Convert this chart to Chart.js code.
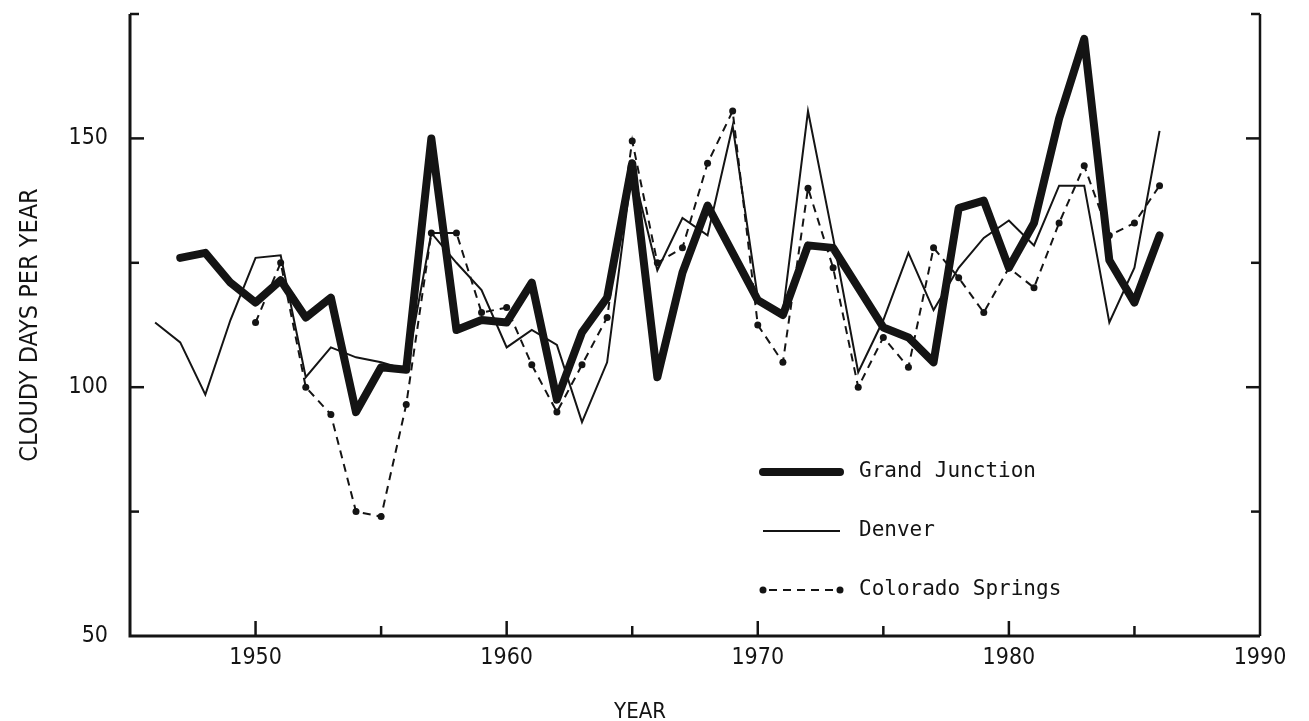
<!DOCTYPE html>
<html>
<head>
<meta charset="utf-8">
<script src="https://cdn.jsdelivr.net/npm/chart.js@4.4.1/dist/chart.umd.min.js"></script>
<style>
  html, body { margin: 0; background: #fff; }
  #wrap { width: 1309px; height: 721px; }
</style>
</head>
<body>
<div id="wrap"><canvas id="cloudy"></canvas></div>
<script>
/* cloudy days per year, three Colorado stations */
const years = [1946, 1947, 1948, 1949, 1950, 1951, 1952, 1953, 1954, 1955,
               1956, 1957, 1958, 1959, 1960, 1961, 1962, 1963, 1964, 1965,
               1966, 1967, 1968, 1969, 1970, 1971, 1972, 1973, 1974, 1975,
               1976, 1977, 1978, 1979, 1980, 1981, 1982, 1983, 1984, 1985, 1986];
const grandJunction = [null, 126, 127, 121, 117, 121.5, 114, 118, 95, 104,
                       103.5, 150, 111.5, 113.5, 113, 121, 97.5, 111, 118, 145,
                       102, 123, 136.5, 127, 117.5, 114.5, 128.5, 128, 120, 112,
                       110, 105, 136, 137.5, 124, 133, 154, 170, 125.5, 117, 130.5];
const denver = [113, 109, 98.5, 113.5, 126, 126.5, 102, 108, 106, 105,
                103.5, 131, 125, 119.5, 108, 111.5, 108.5, 93, 105, 144,
                123.5, 134, 130.5, 152.5, 118, 115, 155.5, 130, 103, 113.5,
                127, 115.5, 124, 130, 133.5, 128.5, 140.5, 140.5, 113, 124, 151.5];
const coloradoSprings = [null, null, null, null, 113, 125, 100, 94.5, 75, 74,
                         96.5, 131, 131, 115, 116, 104.5, 95, 104.5, 114, 149.5,
                         125, 128, 145, 155.5, 112.5, 105, 140, 124, 100, 110,
                         104, 128, 122, 115, 124, 120, 133, 144.5, 130.5, 133, 140.5];
const seriesNames = ['Grand Junction', 'Denver', 'Colorado Springs'];
const xRange = [1945, 1990];
const yRange = [50, 175];

const INK = '#141414';
const TICK_FONT = '"DejaVu Sans Condensed", "Liberation Sans Narrow", "DejaVu Sans", sans-serif';
const MONO = '"DejaVu Sans Mono", "Liberation Mono", monospace';

const pts = arr => years.map((yr, i) => ({ x: yr, y: arr[i] }));

/* axes drawn by hand: ticks point inward, frame has no top edge */
const frame = {
  id: 'frame',
  afterDraw(chart) {
    const { ctx, chartArea: a, scales: { x, y } } = chart;
    const seg = (x1, y1, x2, y2) => { ctx.beginPath(); ctx.moveTo(x1, y1); ctx.lineTo(x2, y2); ctx.stroke(); };
    ctx.save();
    ctx.strokeStyle = INK;
    ctx.lineWidth = 3;
    ctx.beginPath();
    ctx.moveTo(a.left, a.top); ctx.lineTo(a.left, a.bottom); ctx.lineTo(a.right, a.bottom);
    ctx.stroke();
    ctx.lineWidth = 2.5;
    seg(a.right, a.top, a.right, a.bottom);
    y.ticks.forEach(t => {
      if (t.value === yRange[0]) return;
      const py = y.getPixelForValue(t.value);
      const len = t.value % 50 === 0 ? 14 : 9;
      seg(a.left, py, a.left + len, py);
      seg(a.right, py, a.right - len, py);
    });
    x.ticks.forEach(t => {
      if (t.value === xRange[0] || t.value === xRange[1]) return;
      const px = x.getPixelForValue(t.value);
      seg(px, a.bottom, px, a.bottom - (t.value % 10 === 0 ? 15 : 10));
    });

    /* x title sits left of centre in the original */
    ctx.fillStyle = INK;
    ctx.font = '22px ' + TICK_FONT;
    ctx.textAlign = 'center';
    ctx.textBaseline = 'middle';
    ctx.fillText('YEAR', a.left + 510, 712);

    /* legend inside lower right of the plot */
    const lx = a.left + 633, lw = 77;
    chart.data.datasets.forEach((ds, i) => {
      const ly = a.top + 458 + i * 59;
      ctx.strokeStyle = ds.borderColor;
      ctx.lineWidth = ds.borderWidth;
      ctx.lineCap = i === 0 ? 'round' : 'butt';
      ctx.setLineDash(ds.borderDash || []);
      seg(lx + (i === 2 ? 6 : 0), ly, lx + lw - (i === 2 ? 6 : 0), ly);
      ctx.setLineDash([]);
      if (ds.pointRadius) {
        ctx.fillStyle = ds.pointBackgroundColor;
        [lx, lx + lw].forEach(px => { ctx.beginPath(); ctx.arc(px, ly, ds.pointRadius, 0, Math.PI * 2); ctx.fill(); });
      }
      ctx.fillStyle = INK;
      ctx.font = '21px ' + MONO;
      ctx.textAlign = 'left';
      ctx.fillText(ds.label, lx + lw + 19, ly);
    });
    ctx.restore();
  }
};

new Chart(document.getElementById('cloudy'), {
  type: 'line',
  data: {
    datasets: [
      { label: seriesNames[0], data: pts(grandJunction), borderColor: INK, borderWidth: 8,
        pointRadius: 0, borderJoinStyle: 'round', borderCapStyle: 'round', tension: 0 },
      { label: seriesNames[1], data: pts(denver), borderColor: INK, borderWidth: 2,
        pointRadius: 0, borderJoinStyle: 'miter', tension: 0 },
      { label: seriesNames[2], data: pts(coloradoSprings), borderColor: INK, borderWidth: 2,
        borderDash: [8, 6], pointRadius: 3.5, pointBackgroundColor: INK, pointBorderWidth: 0,
        tension: 0 }
    ]
  },
  options: {
    responsive: true,
    maintainAspectRatio: false,
    animation: false,
    events: [],
    layout: { padding: { top: 14, right: 49, left: 0, bottom: 0 } },
    plugins: { legend: { display: false }, tooltip: { enabled: false } },
    scales: {
      x: {
        type: 'linear', min: xRange[0], max: xRange[1],
        grid: { display: false, drawTicks: false }, border: { display: false },
        ticks: { stepSize: 5, padding: 8, color: INK, font: { family: TICK_FONT, size: 23 },
                 maxRotation: 0, autoSkip: false,
                 callback: v => (v % 10 === 0 ? String(v) : '') },
        afterFit: s => { s.height = 85; s.paddingLeft = 0; s.paddingRight = 0; }
      },
      y: {
        min: yRange[0], max: yRange[1],
        grid: { display: false, drawTicks: false }, border: { display: false },
        ticks: { stepSize: 25, padding: 22, color: INK, font: { family: TICK_FONT, size: 23 },
                 callback: v => (v % 50 === 0 ? String(v) : '') },
        title: { display: true, text: 'CLOUDY DAYS PER YEAR', color: INK,
                 font: { family: TICK_FONT, size: 25 }, padding: { top: 15, bottom: 0 } },
        afterFit: s => { s.width = 130; s.paddingTop = 0; s.paddingBottom = 0; }
      }
    }
  },
  plugins: [frame]
});
</script>
</body>
</html>
